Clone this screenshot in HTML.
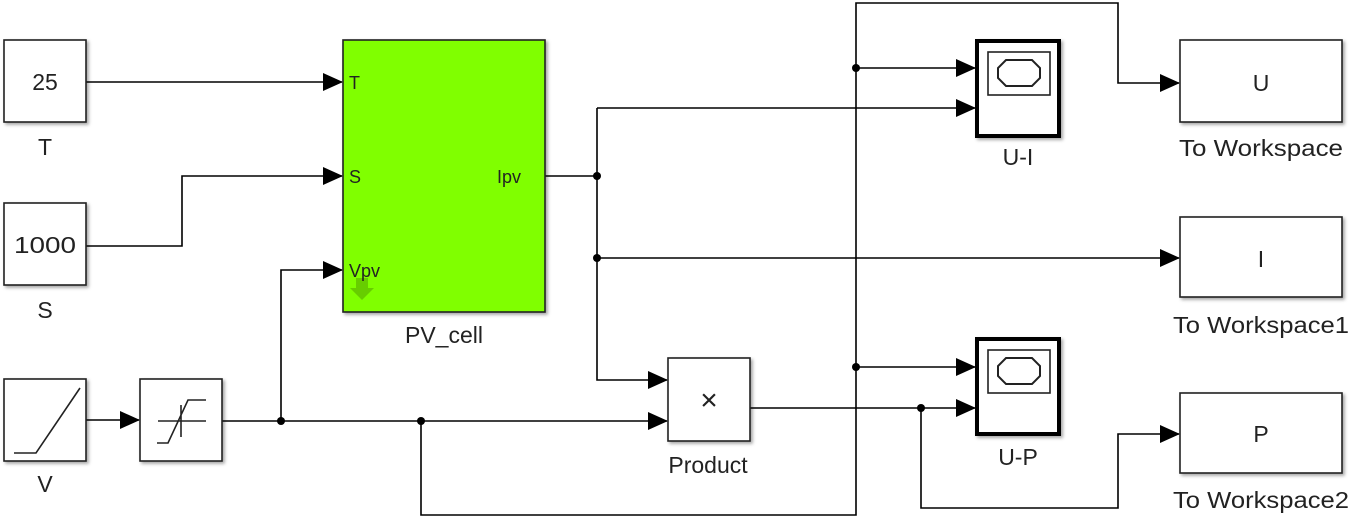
<!DOCTYPE html>
<html><head><style>
html,body{margin:0;padding:0;background:#fff;}
svg text{font-family:"Liberation Sans",sans-serif;fill:#222;}
</style></head><body>
<svg width="1358" height="517" viewBox="0 0 1358 517" xmlns="http://www.w3.org/2000/svg">
<defs>
<marker id="a" markerWidth="20" markerHeight="18" refX="19" refY="9" orient="auto" markerUnits="userSpaceOnUse">
<path d="M0,0 L20,9 L0,18 z" fill="#000"/></marker>
<filter id="sh" x="-10%" y="-10%" width="130%" height="130%"><feDropShadow dx="2" dy="2" stdDeviation="1.5" flood-color="#000" flood-opacity="0.35"/></filter>
</defs>
<g stroke="#000" stroke-width="1.6" fill="none">
<path d="M86,82 H342" marker-end="url(#a)"/>
<path d="M86,246 H182 V176 H342" marker-end="url(#a)"/>
<path d="M281,421 V270 H342" marker-end="url(#a)"/>
<path d="M86,420 H139" marker-end="url(#a)"/>
<path d="M222,421 H667" marker-end="url(#a)"/>
<path d="M421,421 V515 H856 V3 H1118 V83 H1179" marker-end="url(#a)"/>
<path d="M856,68 H975" marker-end="url(#a)"/>
<path d="M856,367 H975" marker-end="url(#a)"/>
<path d="M545,176 H597"/>
<path d="M597,108 H975" marker-end="url(#a)"/>
<path d="M597,108 V380 H667" marker-end="url(#a)"/>
<path d="M597,258 H1179" marker-end="url(#a)"/>
<path d="M750,408 H975" marker-end="url(#a)"/>
<path d="M921,408 V508 H1118 V434 H1179" marker-end="url(#a)"/>
</g>
<g fill="#000">
<circle cx="281" cy="421" r="4"/><circle cx="421" cy="421" r="4"/>
<circle cx="597" cy="176" r="4"/><circle cx="597" cy="258" r="4"/>
<circle cx="856" cy="68" r="4"/><circle cx="856" cy="367" r="4"/>
<circle cx="921" cy="408" r="4"/>
</g>
<g stroke="#222" stroke-width="1.6" fill="#fff" filter="url(#sh)">
<rect x="4" y="40" width="82" height="82"/>
<rect x="4" y="203" width="82" height="82"/>
<rect x="4" y="379" width="82" height="82"/>
<rect x="140" y="379" width="82" height="82"/>
<rect x="343" y="40" width="202" height="272" fill="#80ff00"/>
<rect x="668" y="358" width="82" height="83"/>
<rect x="1180" y="40" width="162" height="82"/>
<rect x="1180" y="217" width="162" height="80"/>
<rect x="1180" y="393" width="162" height="80"/>
</g>
<g stroke="#000" stroke-width="4" fill="#fff" filter="url(#sh)">
<rect x="977" y="41" width="82" height="95"/>
<rect x="977" y="339" width="82" height="95"/>
</g>
<g stroke="#222" stroke-width="1.6" fill="none">
<rect x="988" y="52" width="62" height="43"/>
<rect x="988" y="350" width="62" height="43"/>
<path d="M1006,60 h26 l8,8 v10 l-8,8 h-26 l-8,-8 v-10z" stroke-width="2"/>
<path d="M1006,358 h26 l8,8 v10 l-8,8 h-26 l-8,-8 v-10z" stroke-width="2"/>
<path d="M14,453 H36 L80,388"/>
<path d="M157,443 H168 L188,400 H206 M158,421 H206 M181,437 V405"/>
</g>
<path d="M356,278 h12 v10 h6 l-12,12 l-12,-12 h6z" fill="#5cb800" opacity="0.7"/>
<g font-size="23" text-anchor="middle">
<text x="45" y="90">25</text>
<text x="45" y="253" textLength="62" lengthAdjust="spacingAndGlyphs">1000</text>
<text x="45" y="155">T</text>
<text x="45" y="318">S</text>
<text x="45" y="492">V</text>
<text x="444" y="343">PV_cell</text>
<text x="708" y="473">Product</text>
<text x="709" y="410" font-size="30">×</text>
<text x="1018" y="165">U-I</text>
<text x="1018" y="465">U-P</text>
<text x="1261" y="91">U</text>
<text x="1261" y="267">I</text>
<text x="1261" y="442">P</text>
<text x="1261" y="156" textLength="164" lengthAdjust="spacingAndGlyphs">To Workspace</text>
<text x="1261" y="333" textLength="176" lengthAdjust="spacingAndGlyphs">To Workspace1</text>
<text x="1261" y="508" textLength="176" lengthAdjust="spacingAndGlyphs">To Workspace2</text>
</g>
<g font-size="18">
<text x="349" y="89">T</text>
<text x="349" y="183">S</text>
<text x="349" y="277">Vpv</text>
<text x="497" y="183">Ipv</text>
</g>
</svg>
</body></html>
